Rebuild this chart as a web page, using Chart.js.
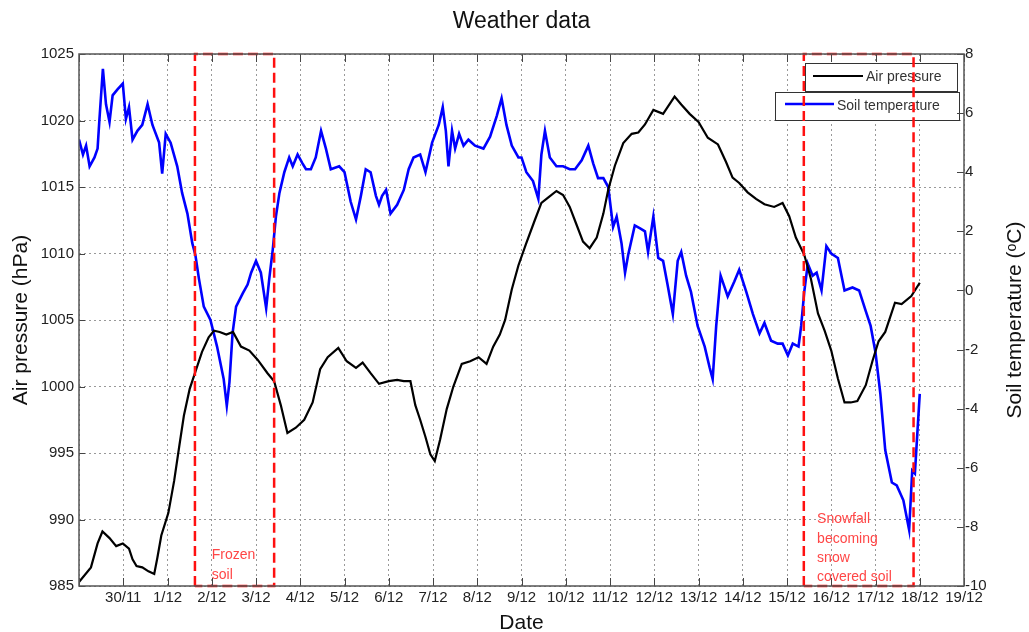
<!DOCTYPE html>
<html>
<head>
<meta charset="utf-8">
<title>Weather data</title>
<script src="https://cdn.jsdelivr.net/npm/chart.js@4.4.1/dist/chart.umd.min.js"></script>
<style>
  html, body { margin: 0; padding: 0; background: #fff; }
  #wrap { width: 1029px; height: 632px; }
</style>
</head>
<body>
<div id="wrap"><canvas id="weatherChart" width="1029" height="632"></canvas></div>
<script>
// x values are days counted from 29/11 00:00
var dateLabels = ["29/11", "30/11", "1/12", "2/12", "3/12", "4/12", "5/12", "6/12", "7/12", "8/12", "9/12",
  "10/12", "11/12", "12/12", "13/12", "14/12", "15/12", "16/12", "17/12", "18/12", "19/12"];

var pressureDays = [
  0.0, 0.27, 0.42, 0.53, 0.69, 0.84, 0.99, 1.13, 1.21, 1.3,
  1.43, 1.57, 1.7, 1.77, 1.86, 2.02, 2.15, 2.27, 2.37, 2.5,
  2.62, 2.78, 2.93, 3.05, 3.18, 3.33, 3.48, 3.66, 3.85, 4.04,
  4.26, 4.41, 4.56, 4.71, 4.9, 5.09, 5.28, 5.45, 5.62, 5.86,
  6.05, 6.26, 6.41, 6.59, 6.78, 7.0, 7.19, 7.34, 7.49, 7.6,
  7.71, 7.83, 7.94, 8.04, 8.16, 8.31, 8.46, 8.65, 8.84, 9.03,
  9.21, 9.36, 9.51, 9.63, 9.78, 9.93, 10.1, 10.3, 10.45, 10.6,
  10.79, 10.94, 11.09, 11.24, 11.39, 11.54, 11.7, 11.85, 11.96, 12.11,
  12.3, 12.49, 12.64, 12.79, 12.98, 13.2, 13.38, 13.46, 13.61, 13.8,
  14.0, 14.21, 14.44, 14.62, 14.77, 14.92, 15.11, 15.3, 15.49, 15.71,
  15.9, 16.05, 16.2, 16.39, 16.54, 16.7, 16.85, 17.0, 17.15, 17.3,
  17.44, 17.59, 17.78, 17.93, 18.07, 18.22, 18.44, 18.59, 18.81, 19.0
];
var airPressure = [
  985.3, 986.4, 988.2, 989.1, 988.6, 988.0, 988.2, 987.8, 987.0, 986.5,
  986.4, 986.1, 985.9, 987.1, 988.8, 990.5, 992.9, 995.6, 997.8, 999.8,
  1001.0, 1002.6, 1003.7, 1004.2, 1004.1, 1003.9, 1004.1, 1003.0, 1002.7, 1002.0,
  1001.0, 1000.4, 998.6, 996.5, 996.9, 997.5, 998.8, 1001.3, 1002.2, 1002.9,
  1001.9, 1001.4, 1001.8, 1001.0, 1000.2, 1000.4, 1000.5, 1000.4, 1000.4, 998.6,
  997.5, 996.2, 994.9, 994.4, 996.0, 998.3, 1000.0, 1001.7, 1001.9, 1002.2,
  1001.7, 1003.0, 1003.9, 1005.0, 1007.3, 1009.1, 1010.7, 1012.5, 1013.8, 1014.2,
  1014.7, 1014.4, 1013.5, 1012.2, 1010.9, 1010.4, 1011.2, 1013.0, 1014.8, 1016.6,
  1018.3, 1019.0, 1019.1, 1019.7, 1020.8, 1020.5, 1021.4, 1021.8, 1021.2, 1020.5,
  1019.9, 1018.7, 1018.2, 1016.9, 1015.7, 1015.3, 1014.6, 1014.1, 1013.7, 1013.5,
  1013.8, 1012.8, 1011.2, 1009.9, 1008.1, 1005.5, 1004.2, 1002.7, 1000.6, 998.8,
  998.8, 998.9, 1000.1, 1001.9, 1003.4, 1004.1, 1006.3, 1006.2, 1006.8, 1007.8
];

var soilDays = [
  0.0, 0.09, 0.16, 0.24, 0.35, 0.42, 0.46, 0.54, 0.61, 0.69,
  0.76, 0.87, 0.99, 1.06, 1.13, 1.21, 1.32, 1.43, 1.55, 1.66,
  1.81, 1.88, 1.96, 2.07, 2.22, 2.33, 2.45, 2.56, 2.63, 2.71,
  2.82, 2.97, 3.12, 3.27, 3.34, 3.4, 3.47, 3.55, 3.7, 3.81,
  3.89, 4.0, 4.11, 4.23, 4.3, 4.38, 4.45, 4.53, 4.64, 4.75,
  4.83, 4.94, 5.05, 5.13, 5.24, 5.35, 5.47, 5.58, 5.69, 5.88,
  6.0, 6.14, 6.26, 6.37, 6.48, 6.59, 6.71, 6.78, 6.85, 6.94,
  7.04, 7.19, 7.34, 7.45, 7.56, 7.71, 7.83, 7.98, 8.13, 8.22,
  8.29, 8.35, 8.43, 8.5, 8.59, 8.69, 8.8, 8.95, 9.14, 9.29,
  9.44, 9.55, 9.66, 9.78, 9.93, 10.0, 10.11, 10.26, 10.38, 10.45,
  10.53, 10.64, 10.79, 10.94, 11.09, 11.21, 11.36, 11.51, 11.62, 11.73,
  11.85, 11.96, 12.07, 12.15, 12.26, 12.34, 12.41, 12.56, 12.68, 12.79,
  12.86, 12.98, 13.09, 13.2, 13.3, 13.42, 13.53, 13.61, 13.72, 13.83,
  13.98, 14.14, 14.25, 14.32, 14.4, 14.5, 14.66, 14.81, 14.92, 15.08,
  15.23, 15.38, 15.49, 15.64, 15.79, 15.9, 16.02, 16.13, 16.26, 16.32,
  16.39, 16.47, 16.58, 16.67, 16.78, 16.89, 17.0, 17.15, 17.3, 17.48,
  17.63, 17.78, 17.89, 18.0, 18.11, 18.22, 18.37, 18.48, 18.63, 18.76,
  18.83, 18.89, 19.0
];
var soilTemp = [
  5.1, 4.6, 4.9, 4.2, 4.5, 4.8, 5.75, 7.5, 6.3, 5.7,
  6.6, 6.8, 7.0, 5.8, 6.2, 5.1, 5.4, 5.6, 6.3, 5.6,
  5.0, 3.95, 5.3, 5.0, 4.2, 3.3, 2.6, 1.6, 1.2, 0.4,
  -0.55, -1.0, -1.9, -3.0, -3.9, -3.1, -1.45, -0.55, -0.1, 0.2,
  0.6, 1.0, 0.6, -0.6, 0.4, 1.4, 2.5, 3.3, 4.0, 4.5,
  4.2, 4.6, 4.3, 4.1, 4.1, 4.5, 5.4, 4.8, 4.1, 4.2,
  4.0, 3.0, 2.4, 3.2, 4.1, 4.0, 3.2, 2.9, 3.2, 3.4,
  2.6, 2.9, 3.4, 4.1, 4.5, 4.6, 4.0, 5.0, 5.6, 6.2,
  5.4, 4.2, 5.4, 4.8, 5.3, 4.9, 5.1, 4.9, 4.8, 5.2,
  5.9, 6.5, 5.6, 4.9, 4.5, 4.5, 4.0, 3.7, 3.1, 4.6,
  5.4, 4.5, 4.2, 4.2, 4.1, 4.1, 4.4, 4.9, 4.3, 3.8,
  3.8, 3.5, 2.15, 2.5, 1.6, 0.6, 1.2, 2.2, 2.1, 2.0,
  1.3, 2.5, 1.1, 1.0, 0.2, -0.8, 1.0, 1.3, 0.5, -0.05,
  -1.2, -1.9, -2.6, -3.0, -1.2, 0.5, -0.2, 0.3, 0.7, -0.05,
  -0.8, -1.45, -1.1, -1.7, -1.8, -1.8, -2.2, -1.8, -1.9, -1.2,
  -0.05, 0.9, 0.5, 0.6, 0.0, 1.5, 1.25, 1.1, 0.0, 0.1,
  0.0, -0.7, -1.2, -2.1, -3.5, -5.4, -6.5, -6.6, -7.1, -8.1,
  -6.1, -6.2, -3.5
];

// periods marked with red dashed boxes (start day, end day)
var frozenPeriod = [2.62, 4.41];
var snowPeriod = [16.38, 18.86];
var pressureRange = [985, 1025];
var tempRange = [-10, 8];

function toPoints(xs, ys) {
  var pts = [];
  for (var i = 0; i < xs.length; i++) pts.push({x: xs[i], y: ys[i]});
  return pts;
}

function boxPoints(period) {
  return [
    {x: period[0], y: pressureRange[0]}, {x: period[0], y: pressureRange[1]},
    {x: period[1], y: pressureRange[1]}, {x: period[1], y: pressureRange[0]},
    {x: period[0], y: pressureRange[0]}
  ];
}

var FONT = "'Liberation Sans', Arial, Helvetica, sans-serif";

// red notes inside the boxes, anchored on day / pressure
var notes = [
  {x: 3.0, y: 987.3, text: "Frozen"},
  {x: 3.0, y: 985.8, text: "soil"},
  {x: 16.68, y: 990.0, text: "Snowfall"},
  {x: 16.68, y: 988.55, text: "becoming"},
  {x: 16.68, y: 987.1, text: "snow"},
  {x: 16.68, y: 985.65, text: "covered soil"}
];

var extras = {
  id: 'extras',
  beforeDatasetsDraw: function(chart) {
    var ctx = chart.ctx, a = chart.chartArea;
    ctx.save();
    ctx.font = "14px " + FONT;
    ctx.textBaseline = 'middle';
    // legend 1
    ctx.fillStyle = '#fff';
    ctx.fillRect(a.right - 159, a.top + 9, 152, 28);
    ctx.strokeStyle = '#333';
    ctx.lineWidth = 1;
    ctx.strokeRect(a.right - 159 + 0.5, a.top + 9 + 0.5, 152, 28);
    ctx.strokeStyle = '#000';
    ctx.lineWidth = 2;
    ctx.beginPath(); ctx.moveTo(a.right - 151, a.top + 22); ctx.lineTo(a.right - 101, a.top + 22); ctx.stroke();
    ctx.fillStyle = '#333';
    ctx.fillText('Air pressure', a.right - 98, a.top + 23);
    // legend 2
    ctx.fillStyle = '#fff';
    ctx.fillRect(a.right - 189, a.top + 38, 184, 28);
    ctx.strokeStyle = '#333';
    ctx.lineWidth = 1;
    ctx.strokeRect(a.right - 189 + 0.5, a.top + 38 + 0.5, 184, 28);
    ctx.strokeStyle = '#0000ff';
    ctx.lineWidth = 2.5;
    ctx.beginPath(); ctx.moveTo(a.right - 179, a.top + 50); ctx.lineTo(a.right - 130, a.top + 50); ctx.stroke();
    ctx.fillStyle = '#333';
    ctx.fillText('Soil temperature', a.right - 127, a.top + 52);
    ctx.restore();
  },
  afterDraw: function(chart) {
    var ctx = chart.ctx, a = chart.chartArea;
    var sx = chart.scales.x, sp = chart.scales.yP, st = chart.scales.yT;
    ctx.save();
    // inner tick marks
    ctx.strokeStyle = '#444';
    ctx.lineWidth = 1;
    ctx.beginPath();
    sx.ticks.forEach(function(t) {
      var px = Math.round(sx.getPixelForValue(t.value)) + 0.5;
      ctx.moveTo(px, a.bottom); ctx.lineTo(px, a.bottom - 8);
      ctx.moveTo(px, a.top); ctx.lineTo(px, a.top + 8);
    });
    sp.ticks.forEach(function(t) {
      var py = Math.round(sp.getPixelForValue(t.value)) + 0.5;
      ctx.moveTo(a.left, py); ctx.lineTo(a.left + 6, py);
    });
    st.ticks.forEach(function(t) {
      var py = Math.round(st.getPixelForValue(t.value)) + 0.5;
      ctx.moveTo(a.right, py); ctx.lineTo(a.right - 7, py);
    });
    ctx.stroke();
    // plot box
    ctx.strokeStyle = '#555';
    ctx.lineWidth = 1.5;
    ctx.strokeRect(a.left, a.top, a.right - a.left, a.bottom - a.top);
    // notes
    ctx.fillStyle = '#ff4646';
    ctx.font = "14px " + FONT;
    ctx.textBaseline = 'middle';
    notes.forEach(function(n) {
      ctx.fillText(n.text, sx.getPixelForValue(n.x), sp.getPixelForValue(n.y));
    });
    // right axis title, reading bottom to top
    ctx.fillStyle = '#111';
    ctx.font = "21px " + FONT;
    ctx.textAlign = 'center';
    ctx.translate(1015, (a.top + a.bottom) / 2);
    ctx.rotate(-Math.PI / 2);
    ctx.fillText('Soil temperature (\u1D52C)', 0, 0);
    ctx.restore();
  }
};

Chart.defaults.font.family = FONT;
Chart.defaults.color = '#222';

new Chart(document.getElementById('weatherChart'), {
  type: 'line',
  data: {
    datasets: [
      {
        label: 'Frozen soil',
        data: boxPoints(frozenPeriod),
        yAxisID: 'yP',
        borderColor: '#ff1010',
        borderWidth: 2.5,
        borderDash: [10, 5],
        pointRadius: 0,
        fill: false,
        clip: false
      },
      {
        label: 'Snow covered soil',
        data: boxPoints(snowPeriod),
        yAxisID: 'yP',
        borderColor: '#ff1010',
        borderWidth: 2.5,
        borderDash: [10, 5],
        pointRadius: 0,
        fill: false,
        clip: false
      },
      {
        label: 'Air pressure',
        data: toPoints(pressureDays, airPressure),
        yAxisID: 'yP',
        borderColor: '#000',
        borderWidth: 2.2,
        pointRadius: 0,
        tension: 0,
        fill: false
      },
      {
        label: 'Soil temperature',
        data: toPoints(soilDays, soilTemp),
        yAxisID: 'yT',
        borderColor: '#0000ff',
        borderWidth: 2.6,
        pointRadius: 0,
        tension: 0,
        fill: false
      }
    ]
  },
  options: {
    responsive: false,
    animation: false,
    devicePixelRatio: 1,
    layout: { padding: 0 },
    plugins: {
      legend: { display: false },
      tooltip: { enabled: false },
      title: {
        display: true,
        text: 'Weather data',
        fullSize: false,
        color: '#111',
        font: { size: 23, weight: 'normal', lineHeight: 1.2 },
        padding: { top: 8, bottom: 18.4 }
      }
    },
    scales: {
      x: {
        type: 'linear',
        min: 0,
        max: 20,
        afterFit: function(s) { s.height = 46; },
        ticks: {
          stepSize: 1,
          autoSkip: false,
          maxRotation: 0,
          padding: 3,
          color: '#222',
          font: { size: 15 },
          callback: function(v) { return v === 0 ? '' : dateLabels[v]; }
        },
        grid: { color: '#999', drawTicks: false, lineWidth: 1 },
        border: { display: false, dash: [2, 3] },
        title: {
          display: true,
          text: 'Date',
          color: '#111',
          font: { size: 21, lineHeight: 0.8 },
          padding: { top: 0, bottom: 0 }
        }
      },
      yP: {
        type: 'linear',
        position: 'left',
        min: pressureRange[0],
        max: pressureRange[1],
        afterFit: function(s) { s.width = 79; },
        ticks: {
          stepSize: 5,
          padding: 5,
          color: '#222',
          font: { size: 15 },
          callback: function(v) { return String(v); }
        },
        grid: { color: '#999', drawTicks: false, lineWidth: 1 },
        border: { display: false, dash: [2, 3] },
        title: {
          display: true,
          text: 'Air pressure (hPa)',
          color: '#111',
          font: { size: 21, lineHeight: 1.2 },
          padding: { top: 9, bottom: 0 }
        }
      },
      yT: {
        type: 'linear',
        position: 'right',
        min: tempRange[0],
        max: tempRange[1],
        afterFit: function(s) { s.width = 65; },
        ticks: {
          stepSize: 2,
          padding: 1,
          color: '#222',
          font: { size: 15 },
          callback: function(v) { return String(v); }
        },
        grid: { drawOnChartArea: false, drawTicks: false },
        border: { display: false }
      }
    }
  },
  plugins: [extras]
});
</script>
</body>
</html>
